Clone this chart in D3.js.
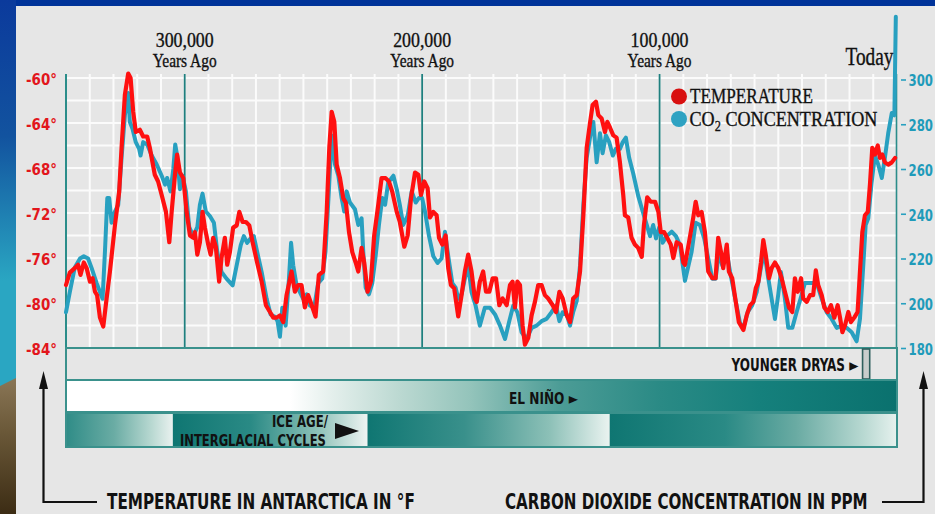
<!DOCTYPE html>
<html><head><meta charset="utf-8">
<script src="https://cdn.jsdelivr.net/npm/d3@7"></script>
<style>html,body{margin:0;padding:0;background:#003399;overflow:hidden}svg{display:block}</style>
</head><body>
<svg id="chart" width="935" height="514"></svg>
<script>
// ---------- DATA (thousands of years ago, value) ----------
const temperature = [[350.0,-78.4],[348.4,-77.3],[346.3,-76.9],[344.9,-76.6],[343.9,-77.5],[342.5,-76.4],[341.3,-76.9],[339.9,-78.1],[338.8,-77.8],[337.8,-79.0],[336.9,-79.3],[335.7,-81.3],[334.3,-82.1],[332.9,-79.6],[331.5,-77.2],[329.4,-73.1],[327.6,-70.1],[326.6,-66.2],[325.2,-61.5],[323.8,-59.6],[322.8,-60.0],[321.7,-63.0],[320.6,-64.8],[318.9,-64.6],[317.5,-65.2],[315.8,-65.2],[314.7,-66.2],[312.6,-68.6],[311.2,-69.2],[309.7,-70.4],[307.9,-71.9],[306.5,-74.6],[305.5,-71.9],[304.1,-68.6],[303.2,-66.8],[302.0,-68.4],[300.6,-68.9],[299.2,-71.9],[297.8,-74.0],[296.4,-74.2],[295.7,-73.7],[294.7,-75.7],[293.6,-74.6],[292.5,-71.9],[291.5,-73.3],[290.1,-74.8],[289.1,-75.7],[288.0,-74.2],[286.9,-75.0],[285.5,-78.1],[284.5,-76.0],[283.1,-74.2],[282.1,-76.6],[281.0,-75.5],[279.6,-73.3],[278.1,-73.1],[277.0,-71.9],[275.6,-72.8],[274.2,-72.8],[272.8,-73.1],[271.4,-74.6],[269.5,-76.4],[267.6,-78.1],[265.8,-80.2],[264.1,-80.8],[262.7,-81.3],[261.3,-81.3],[259.9,-81.1],[258.5,-81.7],[257.1,-79.3],[255.0,-77.2],[253.6,-79.0],[252.2,-78.4],[250.8,-78.4],[249.4,-80.4],[248.0,-79.3],[246.5,-80.2],[244.9,-81.2],[243.5,-77.5],[241.7,-77.2],[240.2,-71.9],[239.1,-66.2],[238.1,-63.0],[237.0,-63.9],[236.0,-67.7],[234.6,-68.9],[233.2,-70.7],[232.1,-71.1],[230.8,-73.7],[229.4,-75.5],[228.0,-76.4],[226.9,-77.2],[225.5,-75.1],[224.4,-76.4],[223.0,-79.0],[221.6,-78.1],[220.2,-74.0],[218.5,-71.3],[217.1,-68.9],[215.4,-68.9],[214.0,-69.2],[212.6,-70.1],[210.7,-71.9],[209.4,-72.8],[207.5,-75.0],[206.1,-74.0],[204.7,-70.7],[203.0,-68.4],[201.6,-68.6],[200.5,-70.4],[199.1,-69.2],[197.7,-69.8],[196.7,-72.4],[195.3,-71.9],[193.9,-72.2],[192.9,-74.2],[191.5,-74.8],[190.1,-74.0],[189.0,-76.9],[187.9,-78.4],[186.5,-78.7],[184.8,-81.2],[183.4,-79.3],[182.0,-77.2],[180.6,-75.7],[179.2,-77.2],[177.8,-79.6],[177.0,-79.9],[175.7,-78.1],[174.3,-77.2],[173.1,-79.0],[171.7,-79.0],[170.3,-77.8],[168.9,-77.8],[167.5,-80.2],[166.1,-79.6],[164.4,-80.2],[163.0,-78.4],[161.9,-78.1],[160.9,-80.4],[159.9,-78.1],[158.8,-78.4],[157.7,-82.0],[156.7,-83.7],[155.3,-83.1],[153.9,-81.1],[152.5,-79.9],[151.1,-78.4],[149.7,-78.4],[148.3,-79.3],[146.9,-79.6],[145.0,-80.2],[143.6,-80.8],[142.2,-79.0],[140.8,-79.6],[139.1,-81.1],[137.7,-81.7],[136.4,-79.6],[134.9,-79.3],[133.5,-77.2],[132.1,-72.2],[130.7,-66.2],[129.3,-64.0],[128.2,-62.4],[126.8,-62.1],[125.8,-63.3],[124.4,-63.6],[123.0,-64.8],[122.0,-63.9],[120.9,-64.4],[119.5,-65.1],[118.1,-65.3],[116.7,-67.5],[115.3,-70.4],[114.6,-72.2],[113.2,-72.4],[111.8,-74.2],[110.4,-74.8],[109.0,-75.1],[107.5,-75.9],[106.6,-73.1],[105.2,-70.6],[103.7,-71.0],[101.9,-71.0],[100.5,-71.9],[99.5,-73.7],[98.1,-73.7],[96.8,-74.2],[95.3,-74.8],[94.2,-76.0],[92.8,-74.6],[91.1,-74.8],[90.0,-76.4],[89.3,-76.6],[87.6,-74.6],[85.8,-72.4],[84.8,-71.0],[83.7,-72.2],[82.3,-71.9],[80.9,-73.7],[79.5,-77.2],[77.8,-77.8],[76.4,-77.8],[75.3,-74.2],[74.1,-75.5],[73.2,-76.9],[71.7,-74.8],[70.8,-77.2],[69.4,-77.8],[67.9,-79.9],[66.6,-81.7],[64.7,-82.4],[63.3,-81.1],[61.9,-80.2],[60.5,-79.9],[59.5,-78.7],[58.4,-78.1],[57.3,-76.4],[56.3,-74.4],[55.3,-75.7],[53.9,-77.8],[52.8,-76.9],[51.4,-76.4],[50.0,-76.9],[48.6,-77.8],[47.2,-79.0],[45.5,-80.4],[44.1,-80.8],[43.0,-77.8],[41.8,-79.0],[40.4,-77.8],[39.5,-79.6],[38.0,-79.9],[36.6,-79.3],[35.3,-79.3],[34.2,-77.1],[33.2,-78.4],[31.7,-79.3],[30.6,-80.4],[29.2,-80.8],[27.8,-80.2],[26.4,-81.3],[25.0,-80.2],[24.0,-81.3],[23.0,-82.6],[21.9,-82.0],[20.5,-80.8],[19.4,-81.7],[18.0,-81.3],[16.6,-80.8],[15.6,-77.2],[14.6,-73.7],[13.5,-72.2],[12.3,-71.9],[11.4,-69.5],[10.4,-66.2],[9.3,-66.8],[8.1,-66.0],[7.2,-67.1],[6.2,-66.8],[5.1,-67.5],[3.7,-67.7],[2.2,-67.5],[0.8,-67.1]];

const co2 = [[350.0,196],[348.4,205],[346.3,216],[344.1,220],[342.5,221],[340.7,220],[339.3,216],[337.1,209],[334.6,202],[333.6,223],[332.6,247],[331.8,247],[330.8,236],[329.4,241],[328.0,244],[326.6,265],[325.2,284],[323.8,294],[323.1,281],[322.0,278],[320.6,272],[319.2,269],[318.6,266],[317.5,272],[315.8,271],[313.9,266],[311.8,262],[309.7,257],[308.3,253],[307.4,256],[306.0,250],[304.8,260],[304.0,271],[303.2,266],[302.0,251],[300.9,257],[299.5,250],[298.1,234],[296.4,230],[294.7,234],[293.6,244],[292.5,249],[291.1,241],[289.4,239],[287.7,236],[286.3,223],[284.5,214],[282.4,211],[279.8,208],[278.1,217],[276.4,226],[275.1,230],[273.7,227],[272.2,229],[270.9,230],[269.5,223],[267.6,214],[265.5,202],[263.8,195],[262.0,194],[260.9,192],[259.9,185],[258.9,198],[257.5,190],[256.1,211],[255.2,227],[254.3,217],[252.9,208],[251.5,205],[250.1,202],[248.6,204],[247.3,199],[245.5,198],[243.8,209],[242.1,211],[240.7,223],[239.3,250],[238.1,275],[236.7,262],[235.3,257],[233.9,247],[232.8,241],[231.8,250],[230.4,245],[228.3,242],[226.9,235],[225.5,238],[224.8,223],[223.8,207],[222.4,204],[221.0,209],[219.6,221],[218.2,235],[216.8,247],[215.6,244],[214.3,254],[212.1,257],[210.7,251],[209.4,244],[208.0,235],[206.1,239],[204.4,250],[202.7,245],[201.4,247],[200.0,247],[198.8,241],[197.1,230],[195.3,221],[193.5,218],[191.8,220],[190.4,232],[189.0,221],[187.3,209],[185.9,207],[184.8,202],[183.4,204],[182.0,211],[180.6,217],[179.2,205],[177.5,199],[175.7,190],[173.6,198],[171.4,198],[169.3,195],[167.2,190],[165.1,184],[163.3,192],[161.6,199],[159.9,196],[158.1,187],[156.0,184],[153.9,189],[151.8,190],[149.7,192],[147.6,193],[145.5,196],[143.6,199],[142.2,192],[140.8,196],[139.1,195],[137.7,190],[136.4,196],[134.9,201],[133.5,217],[132.1,244],[130.7,265],[129.0,276],[127.9,281],[126.5,263],[125.1,276],[124.0,267],[122.6,275],[121.2,272],[119.7,266],[118.4,269],[116.7,269],[115.5,272],[114.2,274],[112.8,265],[111.1,258],[109.0,248],[107.1,241],[105.4,235],[104.0,230],[102.7,235],[101.5,229],[100.1,234],[98.7,227],[97.0,230],[94.9,232],[93.1,230],[91.4,226],[89.3,210],[86.5,223],[84.8,236],[83.0,235],[81.2,229],[79.5,220],[77.8,211],[76.4,211],[75.0,223],[73.6,217],[71.7,223],[70.3,214],[68.5,204],[66.1,191],[64.7,189],[62.9,196],[61.0,199],[59.1,205],[57.3,216],[55.9,223],[54.2,211],[52.8,202],[51.4,193],[50.0,204],[48.9,214],[47.2,202],[45.8,189],[44.1,189],[42.3,196],[40.1,204],[38.8,209],[35.9,209],[33.8,209],[31.7,202],[29.6,196],[27.5,193],[25.4,189],[23.3,190],[21.2,189],[19.1,187],[17.0,183],[15.6,193],[14.2,217],[13.2,235],[12.1,238],[10.7,254],[9.3,266],[7.9,262],[6.4,256],[5.1,265],[3.7,276],[2.2,285],[1.1,284],[0.5,328]];

const tempTicks = [-60,-64,-68,-72,-76,-80,-84];
const co2Ticks = [300,280,260,240,220,200,180];
const eraTicks = [300,200,100];               // thousand years ago
const eraLabels = ["300,000","200,000","100,000"];
const youngerDryas = [14.5, 11.5];            // thousand years ago
const iceAgeCycles = [[350,305],[305,223],[223,121],[121,0]];

// ---------- SETUP ----------
const svg = d3.select("#chart");
const W = 935, H = 514;
const x = d3.scaleLinear().domain([350, 0]).range([66, 897]);
const yT = d3.scaleLinear().domain([-84, -60]).range([348, 78]);
const yC = d3.scaleLinear().domain([180, 300]).range([348, 79.5]);
const plotTop = 74, plotBottom = 348;
const condensed = "'Liberation Sans Narrow','Arial Narrow','DejaVu Sans Condensed','Roboto Condensed',sans-serif";
const serif = "'Liberation Serif','Times New Roman',serif";
const teal = "#2b8d8a";

// squeeze a text horizontally to a given width (start x), via transform
function fit(sel, xStart, width) {
  sel.each(function () {
    const t = d3.select(this);
    t.attr("x", 0).attr("text-anchor", "start");
    const w = this.getComputedTextLength() || width;
    t.attr("transform", `translate(${xStart},0) scale(${width / w},1)`);
  });
  return sel;
}

const defs = svg.append("defs");
function grad(id, stops, x1, x2, y1, y2) {
  const g = defs.append("linearGradient").attr("id", id).attr("gradientUnits", "userSpaceOnUse")
    .attr("x1", x1).attr("x2", x2).attr("y1", y1 || 0).attr("y2", y2 || 0);
  stops.forEach(s => g.append("stop").attr("offset", s[0]).attr("stop-color", s[1]));
}

// ---------- BACKGROUND ----------
svg.append("rect").attr("width", W).attr("height", H).attr("fill", "#003399");
grad("strip", [[0,"#0b3a9c"],[0.35,"#12539f"],[0.72,"#2aa6c2"],[1,"#2aa6c2"]], 0, 0, 0, 390);
svg.append("rect").attr("x", 0).attr("y", 0).attr("width", 16).attr("height", H).attr("fill", "url(#strip)");
grad("land", [[0,"#8a7656"],[0.4,"#6a5838"],[1,"#3c2c14"]], 0, 0, 378, 514);
svg.append("path").attr("d", "M0,386 L16,378 L16,514 L0,514 Z").attr("fill", "url(#land)");
svg.append("rect").attr("x", 16).attr("y", 6).attr("width", W - 16).attr("height", H - 6).attr("fill", "#e6e6e6");

// ---------- GRID ----------
const grid = svg.append("g");
grid.selectAll(".hg").data(d3.range(-84, -59, 2)).join("line")
  .attr("x1", x(350)).attr("x2", x(0)).attr("y1", d => yT(d)).attr("y2", d => yT(d))
  .attr("stroke", "#fbfbfb").attr("stroke-width", 2);
grid.selectAll(".vg").data(d3.range(340, 0, -10)).join("line")
  .attr("x1", d => x(d)).attr("x2", d => x(d)).attr("y1", plotTop).attr("y2", plotBottom)
  .attr("stroke", "#fbfbfb").attr("stroke-width", 2);

// era lines
svg.selectAll(".era").data(eraTicks).join("line")
  .attr("x1", d => x(d)).attr("x2", d => x(d)).attr("y1", plotTop).attr("y2", plotBottom)
  .attr("stroke", "#1f7f7e").attr("stroke-width", 1.8);
// left & right axis lines
svg.append("line").attr("x1", x(350)).attr("x2", x(350)).attr("y1", plotTop).attr("y2", 447)
  .attr("stroke", teal).attr("stroke-width", 2);
svg.append("line").attr("x1", x(0) - 0.5).attr("x2", x(0) - 0.5).attr("y1", plotTop).attr("y2", 348)
  .attr("stroke", "#2b8d8a").attr("stroke-width", 1.6);

// ---------- SERIES ----------
const lineC = d3.line().x(d => x(d[0])).y(d => yC(d[1]));
const lineT = d3.line().x(d => x(d[0])).y(d => yT(d[1]));
svg.append("path").datum(co2).attr("d", lineC).attr("fill", "none")
  .attr("stroke", "#28a0c0").attr("stroke-width", 4).attr("stroke-linejoin", "round").attr("stroke-linecap", "round");
svg.append("path").datum(temperature).attr("d", lineT).attr("fill", "none")
  .attr("stroke", "#ff1010").attr("stroke-width", 4.2).attr("stroke-linejoin", "round").attr("stroke-linecap", "round");

// ---------- AXES ----------
const ax = svg.append("g").attr("transform", `translate(${x(350)},0)`)
  .call(d3.axisLeft(yT).tickValues(tempTicks).tickSize(0).tickPadding(9).tickFormat(d => d + "°"));
ax.select(".domain").remove();
ax.selectAll("text").attr("font-family", condensed).attr("font-weight", 700).attr("font-size", 16)
  .attr("fill", "#e2161c").attr("dy", "0.4em").call(fit, -40, 31);

const ar = svg.append("g").attr("transform", `translate(${x(0)},0)`)
  .call(d3.axisRight(yC).tickValues(co2Ticks).tickSize(8).tickPadding(4));
ar.select(".domain").remove();
ar.selectAll("line").attr("x1", 4).attr("x2", 9).attr("stroke", "#28a0c0").attr("stroke-width", 1.6);
ar.selectAll("text").attr("font-family", condensed).attr("font-weight", 700).attr("font-size", 16)
  .attr("fill", "#1f9bba").attr("dy", "0.4em").call(fit, 11.5, 24.5);

// era labels
const eg = svg.selectAll(".eralab").data(eraTicks).join("g");
eg.append("text").attr("y", 47.5)
  .attr("font-family", serif).attr("font-size", 20.5).attr("fill", "#111").attr("stroke", "#111").attr("stroke-width", 0.35)
  .text((d, i) => eraLabels[i]).each(function (d) { fit(d3.select(this), x(d) - 29, 58); });
eg.append("text").attr("y", 67)
  .attr("font-family", serif).attr("font-size", 18.5).attr("fill", "#111").attr("stroke", "#111").attr("stroke-width", 0.35)
  .text("Years Ago").each(function (d) { fit(d3.select(this), x(d) - 32, 64); });
svg.append("text").attr("y", 65)
  .attr("font-family", serif).attr("font-size", 26).attr("fill", "#111").attr("stroke", "#111").attr("stroke-width", 0.35)
  .text("Today").call(fit, x(0) - 3.5 - 48, 48);

// ---------- LEGEND ----------
const lg = svg.append("g");
lg.append("circle").attr("cx", 679).attr("cy", 96.5).attr("r", 8).attr("fill", "#d81010");
lg.append("circle").attr("cx", 679).attr("cy", 119).attr("r", 8).attr("fill", "#2ea2c2");
lg.append("text").attr("y", 103).attr("font-family", serif).attr("font-size", 22).attr("fill", "#111")
  .attr("stroke", "#111").attr("stroke-width", 0.35).text("TEMPERATURE").call(fit, 690, 123);
const co2Label = lg.append("text").attr("y", 126).attr("font-family", serif).attr("font-size", 22)
  .attr("fill", "#111").attr("stroke", "#111").attr("stroke-width", 0.35);
co2Label.append("tspan").text("CO");
co2Label.append("tspan").attr("dy", 5.5).attr("font-size", 15).text("2");
co2Label.append("tspan").attr("dy", -5.5).text(" CONCENTRATION");
co2Label.call(fit, 689.5, 188);

// ---------- BARS ----------
const frame = "#3a918c";
// Younger Dryas row
svg.append("rect").attr("x", x(350)).attr("y", 348).attr("width", x(0) - x(350)).attr("height", 32)
  .attr("fill", "#e6e6e6").attr("stroke", frame).attr("stroke-width", 2);
svg.append("rect").attr("x", x(youngerDryas[0])).attr("y", 349).attr("width", x(youngerDryas[1]) - x(youngerDryas[0])).attr("height", 30)
  .attr("fill", "#c9cdcc").attr("stroke", "#2f5f5d").attr("stroke-width", 1.6);
svg.append("text").attr("y", 371)
  .attr("font-family", condensed).attr("font-weight", 700).attr("font-size", 17).attr("fill", "#111")
  .text("YOUNGER DRYAS \u25BA").call(fit, x(youngerDryas[0]) - 4 - 127, 127);

// El Niño
grad("nino", [[0,"#ffffff"],[0.27,"#ffffff"],[0.32,"#e4efec"],[0.40,"#bcd9d2"],[0.486,"#94c4bb"],[0.594,"#4c9c96"],[0.715,"#2a8a85"],[0.835,"#15807c"],[1,"#0a716e"]], x(350), x(0));
svg.append("rect").attr("x", x(350)).attr("y", 380).attr("width", x(0) - x(350)).attr("height", 32)
  .attr("fill", "url(#nino)").attr("stroke", frame).attr("stroke-width", 2);
svg.append("text").attr("y", 404).attr("font-family", condensed).attr("font-weight", 700)
  .attr("font-size", 16).attr("fill", "#111").text("EL NIÑO \u25BA").call(fit, 509, 69);

// Ice age / interglacial cycles
const iceStops = [
  [[0,"#2f8c87"],[0.45,"#6aaca4"],[0.8,"#b8d8d1"],[1,"#e9f1ef"]],
  [[0,"#0f7672"],[0.4,"#2a8a85"],[0.75,"#8fc2b9"],[1,"#eef4f2"]],
  [[0,"#0f7672"],[0.4,"#39908b"],[0.75,"#8cc0b7"],[1,"#eaf3f0"]],
  [[0,"#0f7672"],[0.4,"#2a8a85"],[0.65,"#6aaba3"],[0.88,"#b7d8d1"],[1,"#e6f1ee"]]
];
iceAgeCycles.forEach((s, i) => grad("ice" + i, iceStops[i], x(s[0]), x(s[1])));
svg.selectAll(".ice").data(iceAgeCycles).join("rect")
  .attr("x", d => x(d[0])).attr("y", 413).attr("width", d => x(d[1]) - x(d[0])).attr("height", 34)
  .attr("fill", (d, i) => `url(#ice${i})`);
svg.append("rect").attr("x", x(350)).attr("y", 413).attr("width", x(0) - x(350)).attr("height", 34)
  .attr("fill", "none").attr("stroke", frame).attr("stroke-width", 2);
svg.append("text").attr("y", 427.5).attr("font-family", condensed)
  .attr("font-weight", 700).attr("font-size", 16).attr("fill", "#111").text("ICE AGE/").call(fit, 272, 56);
svg.append("text").attr("y", 446).attr("font-family", condensed)
  .attr("font-weight", 700).attr("font-size", 16).attr("fill", "#111").text("INTERGLACIAL CYCLES").call(fit, 180, 146);
svg.append("path").attr("d", "M335,423 L359,431 L335,439 Z").attr("fill", "#111");

// ---------- BOTTOM LABELS & ARROWS ----------
svg.append("text").attr("y", 509).attr("font-family", condensed).attr("font-weight", 700)
  .attr("font-size", 21).attr("fill", "#111").text("TEMPERATURE IN ANTARCTICA IN °F").call(fit, 107, 308);
svg.append("text").attr("y", 509).attr("font-family", condensed).attr("font-weight", 700)
  .attr("font-size", 21).attr("fill", "#111").text("CARBON DIOXIDE CONCENTRATION IN PPM").call(fit, 505, 363);
const arrowStyle = s => s.attr("fill", "none").attr("stroke", "#111").attr("stroke-width", 2.2);
svg.append("path").attr("d", "M97,502 L43.5,502 L43.5,384").call(arrowStyle);
svg.append("path").attr("d", "M39,389 L43.5,371 L48,389 Z").attr("fill", "#111");
svg.append("path").attr("d", "M882,502 L923.5,502 L923.5,384").call(arrowStyle);
svg.append("path").attr("d", "M919,389 L923.5,371 L928,389 Z").attr("fill", "#111");
</script>
</body></html>
